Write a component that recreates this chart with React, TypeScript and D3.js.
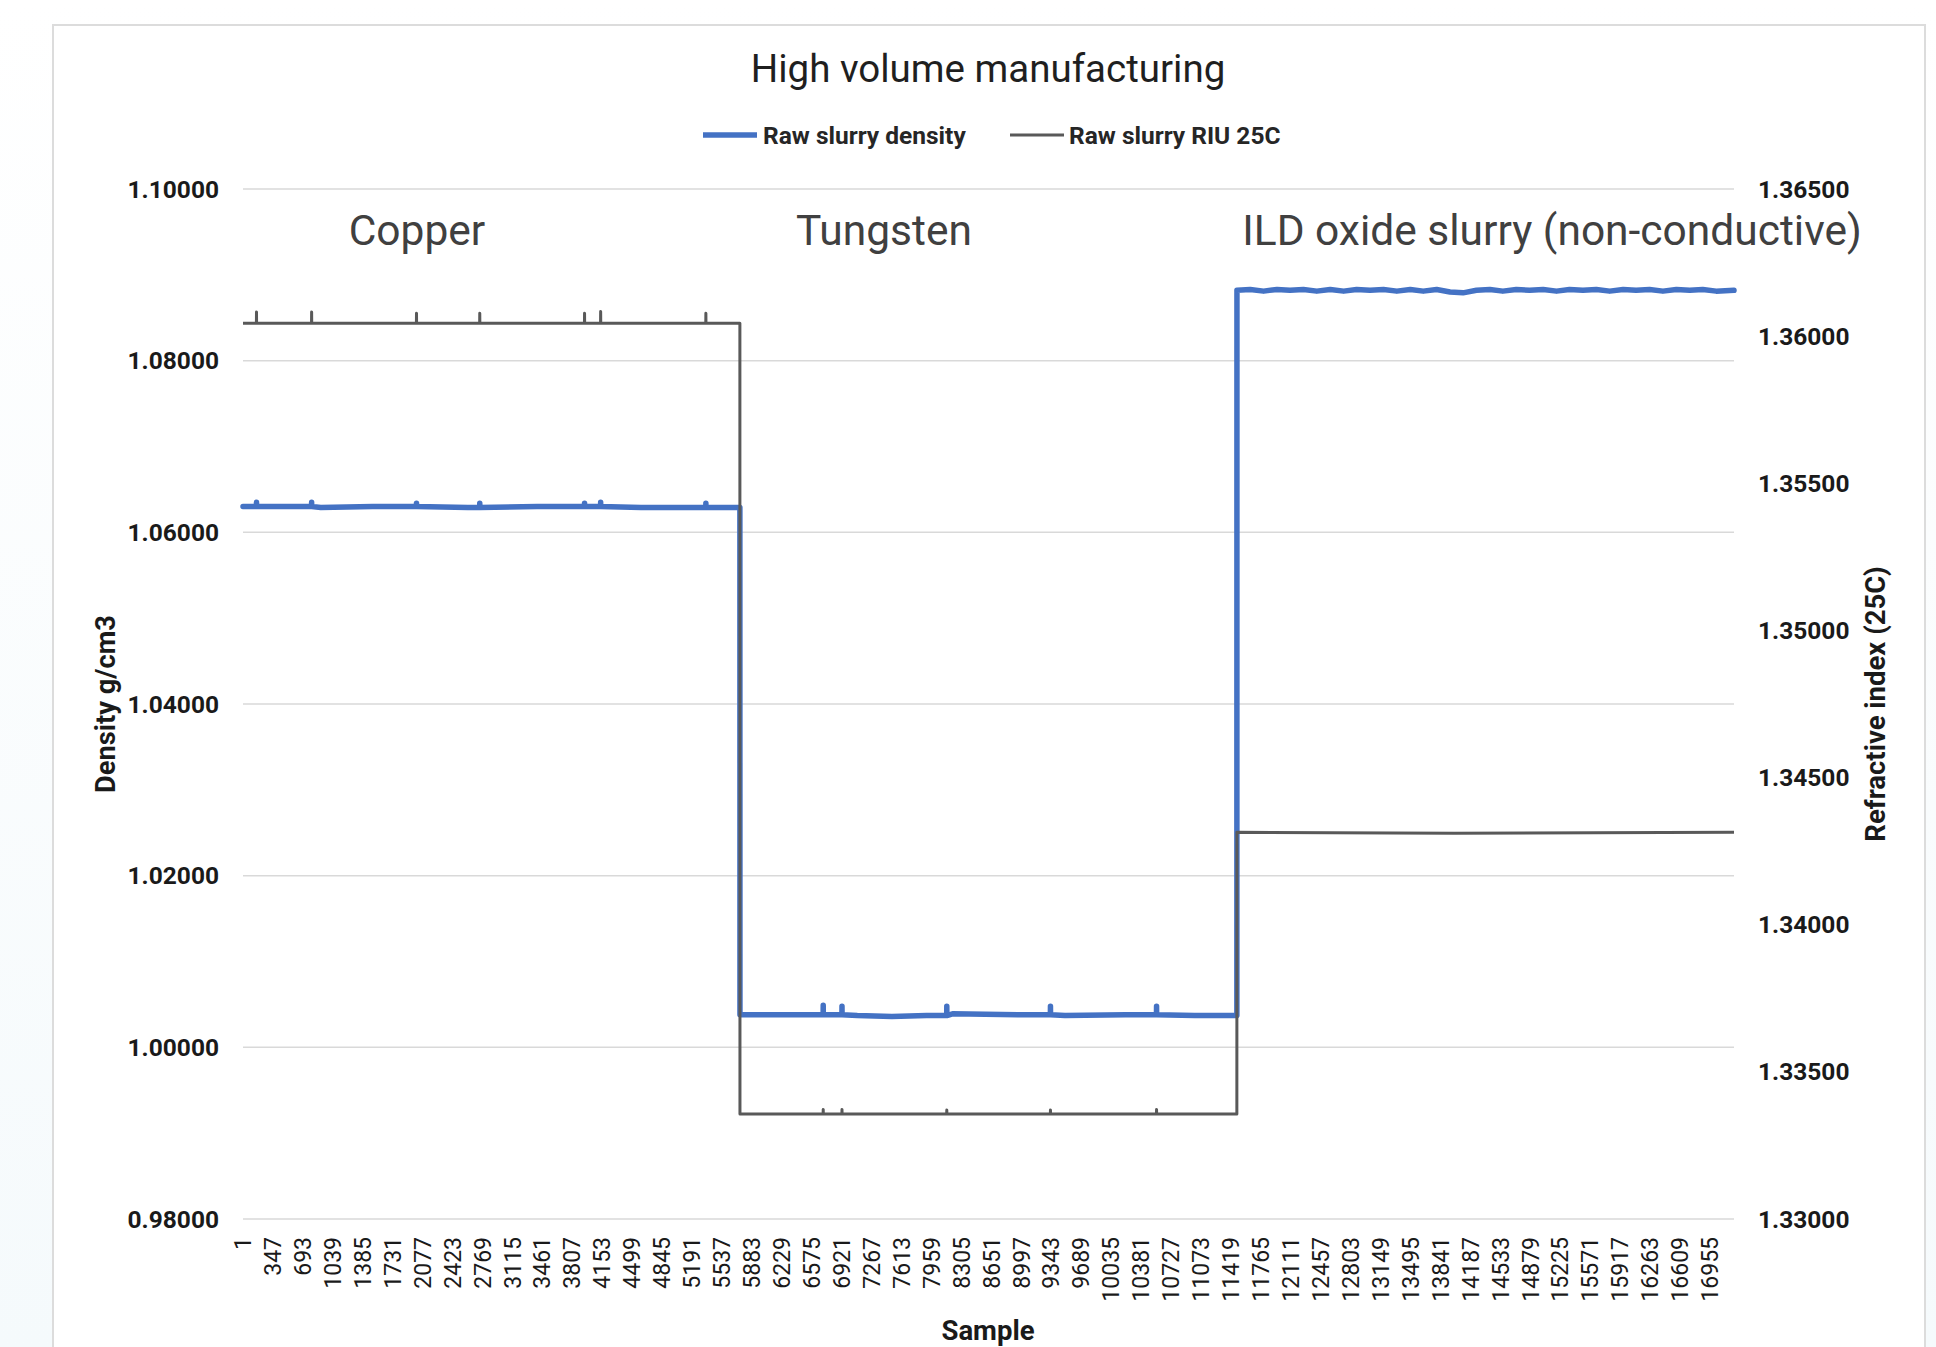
import React from "react";
import * as d3 from "d3";

// chart text
const title = "High volume manufacturing";
const seriesNames = ["Raw slurry density", "Raw slurry RIU 25C"];
const segmentNames = ["Copper", "Tungsten", "ILD oxide slurry (non-conductive)"];
const segmentLabelSample = [2011, 7408, 15128];

// axis ticks
const sampleTicks = [
  1, 347, 693, 1039, 1385, 1731, 2077, 2423, 2769, 3115, 3461, 3807, 4153,
  4499, 4845, 5191, 5537, 5883, 6229, 6575, 6921, 7267, 7613, 7959, 8305,
  8651, 8997, 9343, 9689, 10035, 10381, 10727, 11073, 11419, 11765, 12111,
  12457, 12803, 13149, 13495, 13841, 14187, 14533, 14879, 15225, 15571,
  15917, 16263, 16609, 16955,
];
const densityTicks = [0.98, 1.0, 1.02, 1.04, 1.06, 1.08, 1.1];
const riuTicks = [1.33, 1.335, 1.34, 1.345, 1.35, 1.355, 1.36, 1.365];
const lastSample = 17231;

// raw slurry density readings (sample, g/cm3)
const densityReadings: [number, number][] = [
  [1, 1.063], [900, 1.0629], [1500, 1.063], [2600, 1.0629], [3400, 1.063],
  [4600, 1.0629], [5743, 1.0629],
  [5744, 1.0038], [6600, 1.0038], [7100, 1.0037], [7500, 1.0036],
  [7900, 1.0037], [8200, 1.0039], [9000, 1.0038], [9500, 1.0037],
  [10200, 1.0038], [11000, 1.0037], [11486, 1.0037],
  [11487, 1.0882], [11640, 1.0883], [11795, 1.0881], [11950, 1.0883],
  [12100, 1.0882], [12255, 1.0883], [12410, 1.0881], [12565, 1.0883],
  [12720, 1.0881], [12870, 1.0883], [13025, 1.0882], [13180, 1.0883],
  [13335, 1.0881], [13490, 1.0883], [13640, 1.0881], [13795, 1.0883],
  [13950, 1.088], [14100, 1.0879], [14255, 1.0882], [14410, 1.0883],
  [14560, 1.0881], [14715, 1.0883], [14870, 1.0882], [15025, 1.0883],
  [15180, 1.0881], [15330, 1.0883], [15485, 1.0882], [15640, 1.0883],
  [15795, 1.0881], [15950, 1.0883], [16100, 1.0882], [16255, 1.0883],
  [16410, 1.0881], [16565, 1.0883], [16720, 1.0882], [16870, 1.0883],
  [17025, 1.0881], [17231, 1.0882],
];

// raw slurry refractive index readings (sample, RIU)
const riuReadings: [number, number][] = [
  [1, 1.36044], [5743, 1.36044],
  [5744, 1.33357], [11486, 1.33357],
  [11487, 1.34314], [14000, 1.34311], [17231, 1.34314],
];

// single-sample spikes seen in both series
const spikeSamples = [157, 794, 2006, 2737, 3948, 4134, 5350, 6706, 6923, 8134, 9332, 10558];
const densitySpikes = [1.0635, 1.0635, 1.0634, 1.0634, 1.0634, 1.0635, 1.0634, 1.0049, 1.0048, 1.0048, 1.0048, 1.0048];
const riuSpikes = [1.36082, 1.36082, 1.36078, 1.36078, 1.36078, 1.36084, 1.36078, 1.33372, 1.33372, 1.3337, 1.3337, 1.33372];

const W = 1936;
const H = 1347;
const plot = { left: 243, right: 1734, top: 189, bottom: 1219 };
const BLUE = "#4472C4";
const GREY = "#595959";
const FONT = "Roboto, 'Noto Sans', sans-serif";

// merge spikes into the base readings (shoulders keep the preceding reading)
function withSpikes(base: [number, number][], spikes: number[]) {
  const pts = base.slice();
  spikeSamples.forEach((s, i) => {
    const prev = base.filter((p) => p[0] <= s).pop()!;
    pts.push([s - 1, prev[1]], [s, spikes[i]], [s + 1, prev[1]]);
  });
  return pts.sort((a, b) => a[0] - b[0]);
}

export default function App() {
  const x = d3.scaleLinear().domain([1, lastSample]).range([plot.left, plot.right]);
  const yLeft = d3.scaleLinear().domain([0.98, 1.1]).range([plot.bottom, plot.top]);
  const yRight = d3.scaleLinear().domain([1.33, 1.365]).range([plot.bottom, plot.top]);
  const fmt = d3.format(".5f");

  const densityPath = d3
    .line<[number, number]>()
    .x((d) => x(d[0]))
    .y((d) => yLeft(d[1]))(withSpikes(densityReadings, densitySpikes));
  const riuPath = d3
    .line<[number, number]>()
    .x((d) => x(d[0]))
    .y((d) => yRight(d[1]))(withSpikes(riuReadings, riuSpikes));

  return (
    <svg
      width={W}
      height={H}
      style={{ position: "absolute", left: 0, top: 0, fontFamily: FONT }}
    >
      <defs>
        <linearGradient id="bg" x1="0" y1="0" x2="0" y2="1">
          <stop offset="0" stopColor="#ffffff" />
          <stop offset="1" stopColor="#f5fafc" />
        </linearGradient>
      </defs>
      <rect width={W} height={H} fill="url(#bg)" />
      <rect x={53} y={25} width={1872} height={1400} fill="#ffffff" stroke="#dcdcdc" strokeWidth={2} />

      {/* title */}
      <text x={988} y={82} textAnchor="middle" fontSize={38.5} fill="#1f1f1f">
        {title}
      </text>

      {/* legend */}
      <line x1={703} x2={757} y1={135} y2={135} stroke={BLUE} strokeWidth={5.5} />
      <text x={763} y={135} dy="0.35em" fontSize={24.5} fontWeight="bold" fill="#262626">
        {seriesNames[0]}
      </text>
      <line x1={1010} x2={1064} y1={135} y2={135} stroke={GREY} strokeWidth={3} />
      <text x={1069} y={135} dy="0.35em" fontSize={24.5} fontWeight="bold" fill="#262626">
        {seriesNames[1]}
      </text>

      {/* gridlines + left axis */}
      {densityTicks.map((t) => (
        <g key={t}>
          <line x1={plot.left} x2={plot.right} y1={yLeft(t)} y2={yLeft(t)} stroke="#d9d9d9" strokeWidth={1.5} />
          <text x={219} y={yLeft(t)} dy="0.35em" textAnchor="end" fontSize={24.5} fontWeight="bold" fill="#1a1a1a">
            {fmt(t)}
          </text>
        </g>
      ))}

      {/* right axis */}
      {riuTicks.map((t) => (
        <text key={t} x={1758} y={yRight(t)} dy="0.35em" fontSize={24.5} fontWeight="bold" fill="#1a1a1a">
          {fmt(t)}
        </text>
      ))}

      {/* bottom axis */}
      {sampleTicks.map((t) => (
        <text
          key={t}
          transform={`translate(${x(t)},${1237}) rotate(-90)`}
          dy="0.35em"
          textAnchor="end"
          fontSize={23}
          fill="#1a1a1a"
        >
          {t}
        </text>
      ))}

      {/* axis titles */}
      <text x={988} y={1340} textAnchor="middle" fontSize={27.5} fontWeight="bold" fill="#1a1a1a">
        Sample
      </text>
      <text
        transform={`translate(105,${(plot.top + plot.bottom) / 2}) rotate(-90)`}
        dy="0.35em"
        textAnchor="middle"
        fontSize={27.3}
        fontWeight="bold"
        fill="#1a1a1a"
      >
        Density g/cm3
      </text>
      <text
        transform={`translate(1875,${(plot.top + plot.bottom) / 2}) rotate(-90)`}
        dy="0.35em"
        textAnchor="middle"
        fontSize={27.5}
        fontWeight="bold"
        fill="#1a1a1a"
      >
        Refractive index (25C)
      </text>

      {/* series */}
      <path d={densityPath ?? ""} fill="none" stroke={BLUE} strokeWidth={5.5} strokeLinejoin="round" strokeLinecap="round" />
      <path d={riuPath ?? ""} fill="none" stroke={GREY} strokeWidth={3} strokeLinejoin="round" />

      {/* segment annotations */}
      {segmentNames.map((name, i) => (
        <text key={name} x={x(segmentLabelSample[i])} y={245} textAnchor="middle" fontSize={42.5} fill="#404040">
          {name}
        </text>
      ))}
    </svg>
  );
}
